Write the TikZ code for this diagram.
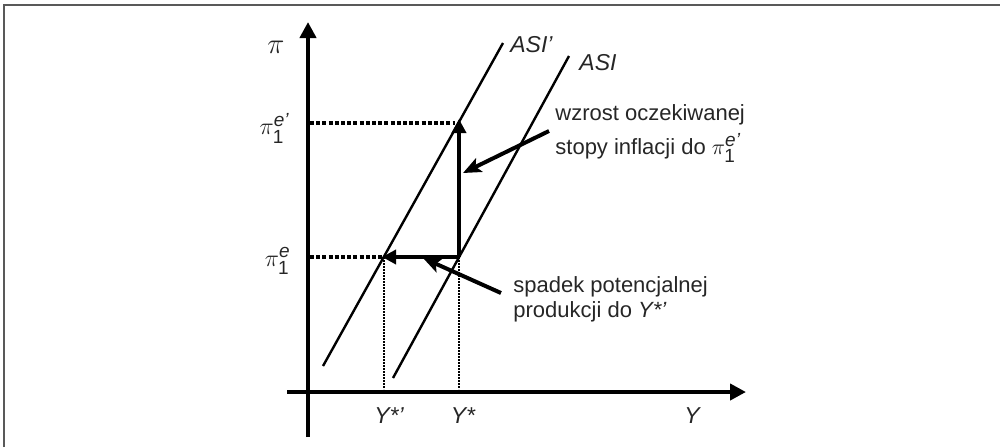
\documentclass[tikz,border=0pt]{standalone}
\usepackage{amsmath}
\usepackage{fontspec}
\setmainfont{Liberation Sans}
\usetikzlibrary{arrows.meta}
\newcommand{\scr}[1]{\text{\fontsize{9.5}{10}\selectfont #1}}
\begin{document}
\begin{tikzpicture}[x=0.5pt,y=-0.5pt,
  axis/.style={line width=2pt,-{Triangle[length=8pt,width=8pt]}},
  curve/.style={line width=1.2pt},
  guide/.style={line width=2pt,dash pattern=on 2pt off 1.1pt},
  dotline/.style={line width=0.8pt,dash pattern=on 0.8pt off 0.7pt},
  move/.style={line width=2.2pt,-{Triangle[length=7pt,width=7pt]}},
  note/.style={line width=2pt,-{Stealth[length=9pt,width=7.5pt,inset=2pt]}},
  lbl/.style={text=black!85, font=\fontsize{11}{13}\selectfont, inner sep=0pt},
  itl/.style={lbl, font=\fontsize{11.5}{13}\selectfont\itshape},
  plbl/.style={lbl, font=\fontsize{13}{14}\selectfont},
]
\useasboundingbox (0,0) rectangle (1000,447);
\draw[color=black!65, line width=1pt] (3.5,447) -- (3.5,5) -- (1000,5);

% axes
\coordinate (ybot) at (308,437);
\coordinate (ytop) at (308,22);
\coordinate (xleft) at (287,392);
\coordinate (xtip) at (746,392);
\draw[axis] (ybot) -- (ytop);
\draw[axis] (xleft) -- (xtip);

% ASI curves
\coordinate (a1) at (323,366);
\coordinate (a2) at (503,43);
\coordinate (b1) at (393,378);
\coordinate (b2) at (569,56);
\draw[curve] (a1) -- (a2);
\draw[curve] (b1) -- (b2);
\node[itl, anchor=west] (asip) at (510,45) {ASI’};
\node[itl, anchor=west] (asi) at (579,63) {ASI};

% key points
\coordinate (pe1) at (310,123);
\coordinate (pe1r) at (455,123);
\coordinate (pe0) at (310,257);
\coordinate (E) at (459,257);
\coordinate (Eup) at (459,119);
\coordinate (Eleft) at (382,257);
\coordinate (d1t) at (384,257);
\coordinate (d1b) at (384,389);
\coordinate (d2b) at (459,389);

% guides
\draw[guide] (pe1) -- (pe1r);
\draw[guide] (pe0) -- (Eleft);
\draw[dotline] (d1t) -- (d1b);
\draw[dotline] (E) -- (d2b);

% moves
\draw[move] (E) -- (Eup);
\draw[move] (E) -- (Eleft);

% annotations
\node[lbl, anchor=base west] (t1) at (555,120) {wzrost oczekiwanej};
\node[lbl, anchor=base west] (t2) at (555,154) {stopy inflacji do \(\pi^{\scr{\itshape e’}}_{\scr{1}}\)};
\node[lbl, anchor=base west] (t3) at (513,292) {spadek potencjalnej};
\node[lbl, anchor=base west] (t4) at (513,317) {produkcji do \textit{Y*’}};
\coordinate (n1s) at (549,131);
\coordinate (n1e) at (463,173);
\coordinate (n2s) at (501,293);
\coordinate (n2e) at (423,258);
\draw[note] (n1s) -- (n1e);
\draw[note] (n2s) -- (n2e);

% axis labels
\node[plbl, font=\fontsize{14}{14}\selectfont] (pi) at (276,47) {$\pi$};
\node[plbl, anchor=east] (lpe1) at (290,128) {\(\pi^{\scr{\itshape e’}}_{\scr{1}}\)};
\node[plbl, anchor=east] (lpe0) at (291,261) {\(\pi^{\scr{\itshape e}}_{\scr{1}}\)};
\node[itl] (ys1) at (389,416) {Y*’};
\node[itl] (ys0) at (463,416) {Y*};
\node[itl] (yl) at (692,416) {Y};
\end{tikzpicture}
\end{document}
